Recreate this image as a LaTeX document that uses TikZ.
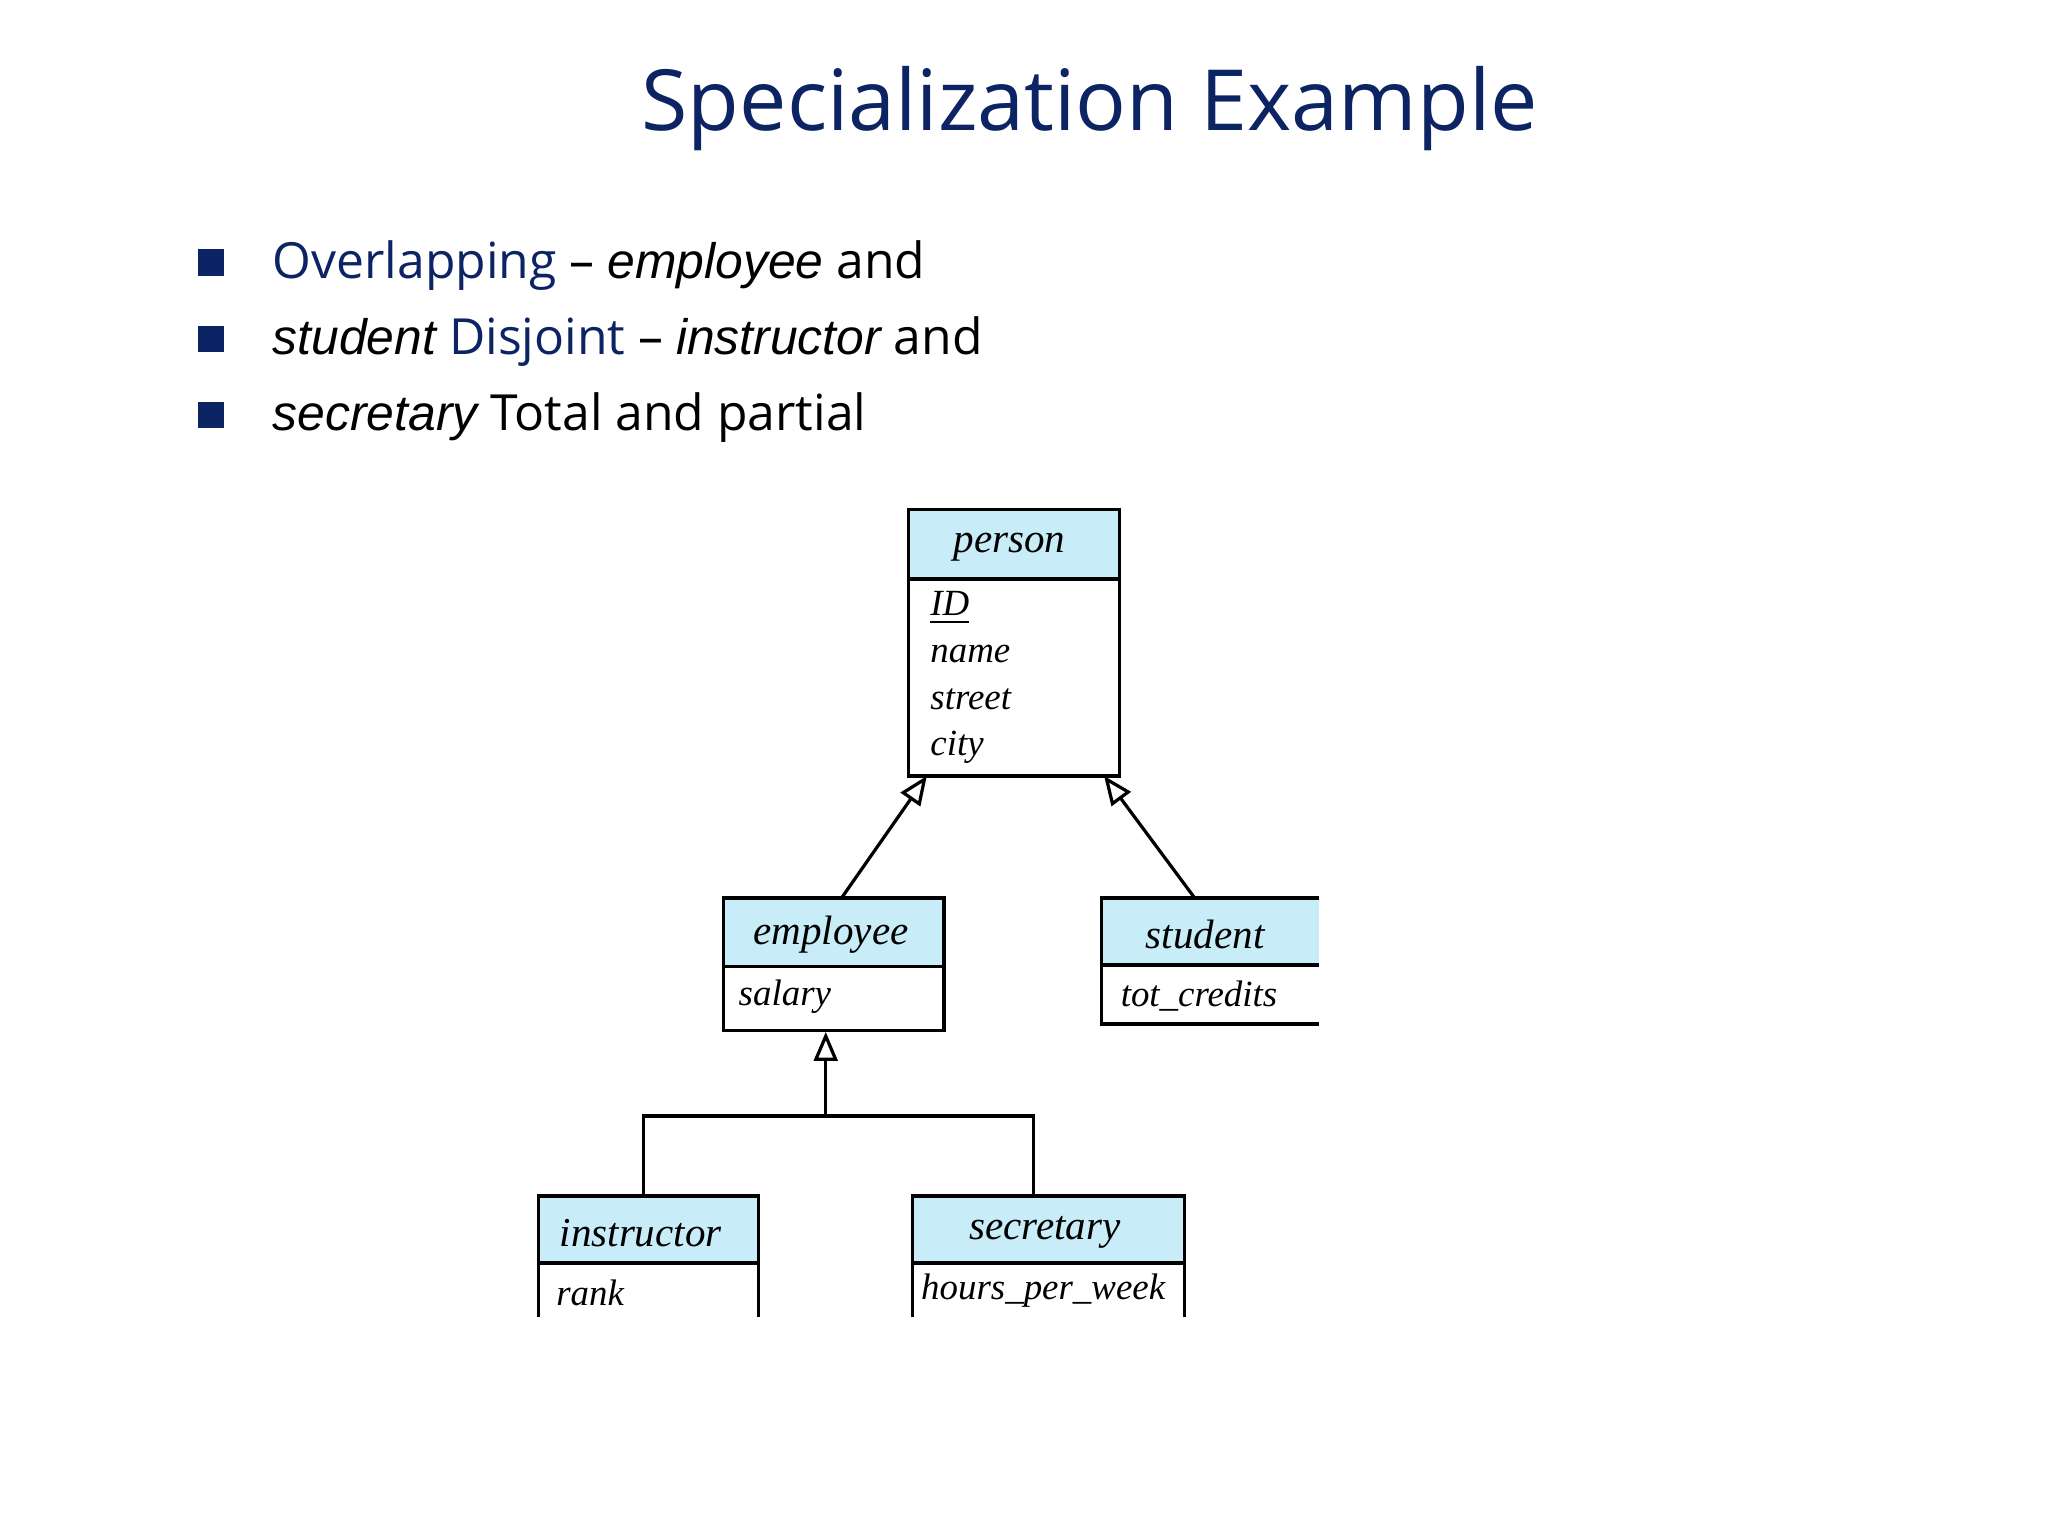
\documentclass[tikz,border=0pt]{standalone}
\usepackage{fontspec}
\setmainfont{Open Sans}
\newfontfamily\arialf{Liberation Sans}
\newfontfamily\timesf{Liberation Serif}
\usetikzlibrary{arrows.meta}
\definecolor{navy}{RGB}{12,36,100}
\definecolor{hdr}{RGB}{200,236,248}
\tikzset{
 hdrbox/.style={fill=hdr,draw=black,line width=0.7pt},
 bodybox/.style={draw=black,line width=0.7pt},
 lbl/.style={font=\timesf\itshape\fontsize{8}{10}\selectfont,inner sep=0pt},
 hlbl/.style={font=\timesf\itshape\fontsize{8.9}{10}\selectfont,inner sep=0pt},
 bul/.style={fill=navy,minimum size=2mm,inner sep=0pt},
 btxt/.style={anchor=west,inner sep=0pt,font=\fontsize{10.8}{13}\selectfont},
 isa/.style={-{Triangle[open,length=2.2mm,width=1.8mm]},line width=0.7pt}
}
\newcommand{\ai}[1]{{\arialf\itshape #1}}
\begin{document}
\begin{tikzpicture}[x=0.1mm,y=-0.1mm]
\useasboundingbox (0,0) rectangle (1560,1170);
\node[text=navy,font=\fontsize{18.3}{22}\selectfont] (title) at (830,83) {Specialization Example};
\node[bul] (b1) at (161,200) {};
\node[bul] (b2) at (161,258) {};
\node[bul] (b3) at (161,316) {};
\node[btxt] (t1) at (207,202) {\textcolor{navy}{Overlapping} – \ai{employee} and};
\node[btxt] (t2) at (207,260) {\ai{student} \textcolor{navy}{Disjoint} – \ai{instructor} and};
\node[btxt] (t3) at (207,318) {\ai{secretary} Total and partial};
% person
\draw[hdrbox] (692,388) rectangle (853,441);
\draw[bodybox] (692,441) rectangle (853,591);
\node[hlbl] (pn) at (769,417) {person};
\node[lbl,anchor=west] (pid) at (708,463) {\underline{ID}};
\node[lbl,anchor=west] at (708,498) {name};
\node[lbl,anchor=west] at (708,533) {street};
\node[lbl,anchor=west] at (708,569) {city};
\coordinate (pl) at (706,591);
\coordinate (pr) at (841,591);
% employee
\draw[hdrbox] (551,684) rectangle (719,736);
\draw[bodybox] (551,736) rectangle (719,785);
\node[hlbl] at (633,712) {employee};
\node[lbl,anchor=west] at (562,759) {salary};
\coordinate (et) at (641,684);
\coordinate (eb) at (629,786);
% student
\path[fill=hdr] (839,684) rectangle (1005,735);
\draw[bodybox] (1005,684) -- (839,684) -- (839,780) -- (1005,780);
\draw[bodybox] (839,735) -- (1005,735);
\node[hlbl] at (918,712) {student};
\node[lbl,anchor=west] at (853,759) {tot\_credits};
\coordinate (st) at (910,684);
% instructor
\path[fill=hdr] (410,911) rectangle (578,962);
\draw[bodybox] (410,1003) -- (410,911) -- (578,911) -- (578,1003);
\draw[bodybox] (410,962) -- (578,962);
\node[hlbl] at (488,939) {instructor};
\node[lbl,anchor=west] at (423,985) {rank};
\coordinate (it) at (490,911);
% secretary
\path[fill=hdr] (695,911) rectangle (902,962);
\draw[bodybox] (695,1003) -- (695,911) -- (902,911) -- (902,1003);
\draw[bodybox] (695,962) -- (902,962);
\node[hlbl] at (796,939) {secretary};
\node[lbl,anchor=west] at (701,983) {hours\_per\_week};
\coordinate (sct) at (787,911);
% connectors
\draw[isa] (et) -- (pl);
\draw[isa] (st) -- (pr);
\coordinate (j) at (629,850);
\draw[isa] (j) -- (eb);
\draw[line width=0.7pt] (it) |- (j) -| (sct);
\end{tikzpicture}
\end{document}
